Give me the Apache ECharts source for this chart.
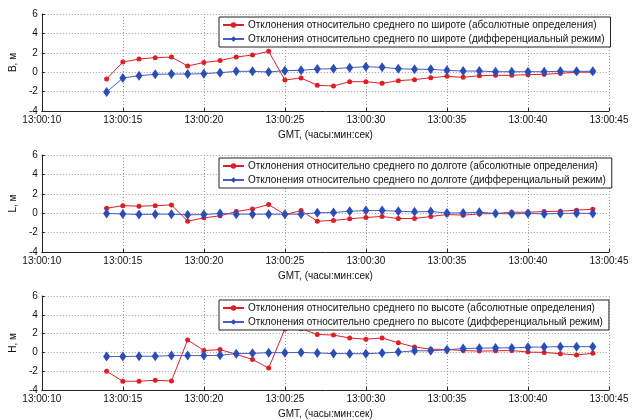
<!DOCTYPE html>
<html>
<head>
<meta charset="utf-8">
<script src="https://cdn.jsdelivr.net/npm/echarts@6/dist/echarts.min.js"></script>
<style>
  html, body { margin: 0; padding: 0; background: #fff; }
  #chart { width: 638px; height: 420px; }
</style>
</head>
<body>
<div id="chart"></div>
<script>
// Seconds after 13:00:00 (GMT) for each epoch
const seconds = [14, 15, 16, 17, 18, 19, 20, 21, 22, 23, 24, 25, 26, 27, 28, 29,
                 30, 31, 32, 33, 34, 35, 36, 37, 38, 39, 40, 41, 42, 43, 44];

// Axis tick labels
const xTickLabels = ['13:00:10', '13:00:15', '13:00:20', '13:00:25',
                     '13:00:30', '13:00:35', '13:00:40', '13:00:45'];
const yTicks = [-4, -2, 0, 2, 4, 6];

// Latitude deviations, m
const latAbs = [-0.7, 1.05, 1.36, 1.5, 1.56, 0.64, 1.0, 1.2, 1.57, 1.77, 2.15,
                -0.8, -0.6, -1.35, -1.42, -0.98, -0.98, -1.15, -0.87, -0.77, -0.56,
                -0.43, -0.53, -0.36, -0.32, -0.32, -0.25, -0.22, -0.12, 0.0, 0.0];
const latDiff = [-2.04, -0.6, -0.36, -0.22, -0.19, -0.19, -0.15, -0.05, 0.09, 0.09, 0.02,
                 0.16, 0.19, 0.33, 0.36, 0.47, 0.57, 0.5, 0.36, 0.3, 0.3,
                 0.19, 0.12, 0.12, 0.05, 0.05, 0.05, 0.05, 0.09, 0.09, 0.09];

// Longitude deviations, m
const lonAbs = [0.51, 0.78, 0.72, 0.78, 0.85, -0.82, -0.48, -0.27, 0.17, 0.44, 0.89,
                -0.14, 0.27, -0.82, -0.75, -0.58, -0.44, -0.34, -0.55, -0.55, -0.34,
                -0.14, -0.2, -0.07, -0.03, 0.1, 0.1, 0.17, 0.2, 0.31, 0.41];
const lonDiff = [-0.03, -0.07, -0.14, -0.1, -0.1, -0.17, -0.14, -0.03, -0.1, -0.1, -0.1,
                 -0.1, -0.1, 0.05, 0.07, 0.2, 0.27, 0.27, 0.2, 0.14, 0.17,
                 0.03, 0.03, 0.1, -0.03, -0.07, -0.03, -0.07, -0.03, 0.0, -0.03];

// Height deviations, m
const hgtAbs = [-2.0, -3.07, -3.07, -2.97, -3.04, 1.33, 0.2, 0.3, -0.2, -0.75, -1.67,
                2.49, 2.52, 1.91, 1.84, 1.54, 1.4, 1.54, 1.02, 0.58, 0.34,
                0.31, 0.2, 0.14, 0.17, 0.2, 0.03, 0.0, -0.14, -0.27, -0.1];
const hgtDiff = [-0.44, -0.44, -0.41, -0.41, -0.34, -0.34, -0.34, -0.31, -0.14, -0.1, -0.03,
                 -0.03, 0.0, -0.07, -0.12, -0.14, -0.14, -0.07, 0.03, 0.17, 0.17,
                 0.27, 0.41, 0.44, 0.48, 0.48, 0.55, 0.58, 0.61, 0.61, 0.61];

const panels = [
  { yName: 'B, м', word: 'широте', abs: latAbs, diff: latDiff },
  { yName: 'L, м', word: 'долготе', abs: lonAbs, diff: lonDiff },
  { yName: 'H, м', word: 'высоте', abs: hgtAbs, diff: hgtDiff }
];

const FONT = 'Liberation Sans, Arial, sans-serif';
const TEXT = '#111';
const RED = '#dd2027';
const BLUE = '#2a4db8';
const gridTops = [14, 155, 296];
const legendOffsets = [3, 3, 4];
const plotH = 97;

const pairs = arr => seconds.map((s, i) => [s, arr[i]]);

const option = {
  animation: false,
  backgroundColor: '#fff',
  grid: [], xAxis: [], yAxis: [], legend: [], series: []
};

panels.forEach((p, k) => {
  const top = gridTops[k];
  option.grid.push({ left: 35, right: 29, top: top, height: plotH });

  option.xAxis.push({
    type: 'value', gridIndex: k, min: 10, max: 45, interval: 5,
    name: 'GMT, (часы:мин:сек)', nameLocation: 'middle', nameGap: 19,
    nameTextStyle: { fontFamily: FONT, fontSize: 10, color: TEXT },
    axisLine: { show: true, onZero: false, lineStyle: { color: '#222', width: 1 } },
    axisTick: { show: true, inside: true, length: 3, lineStyle: { color: '#222' } },
    axisLabel: {
      fontFamily: FONT, fontSize: 10, color: TEXT, margin: 4,
      formatter: v => xTickLabels[Math.round((v - 10) / 5)]
    },
    splitLine: { show: true, lineStyle: { type: [1, 2], color: '#999', width: 1 } }
  });

  option.yAxis.push({
    type: 'value', gridIndex: k, min: yTicks[0], max: yTicks[yTicks.length - 1], interval: 2,
    name: p.yName, nameLocation: 'middle', nameRotate: 90, nameGap: 11,
    nameTextStyle: { fontFamily: FONT, fontSize: 10, color: TEXT },
    axisLine: { show: true, onZero: false, lineStyle: { color: '#222', width: 1 } },
    axisTick: { show: true, inside: true, length: 3, lineStyle: { color: '#222' } },
    axisLabel: { fontFamily: FONT, fontSize: 10, color: TEXT, margin: 4 },
    splitLine: { show: true, lineStyle: { type: [1, 2], color: '#999', width: 1 } }
  });

  const nameAbs = 'Отклонения относительно среднего по ' + p.word + ' (абсолютные определения)';
  const nameDiff = 'Отклонения относительно среднего по ' + p.word + ' (дифференциальный режим)';

  option.legend.push({
    data: [nameAbs, nameDiff],
    orient: 'vertical', left: 219, top: top + legendOffsets[k], width: 387,
    padding: [2, 6, 2, 3], itemGap: 2, itemWidth: 21, itemHeight: 7,
    backgroundColor: '#fff', borderColor: '#222', borderWidth: 1, borderRadius: 0,
    textStyle: { fontFamily: FONT, fontSize: 10, color: TEXT, lineHeight: 12, padding: [0, 0, 0, -1] }
  });

  option.series.push({
    name: nameAbs, type: 'line', xAxisIndex: k, yAxisIndex: k,
    data: pairs(p.abs), symbol: 'circle', symbolSize: 5,
    lineStyle: { color: RED, width: 1 }, itemStyle: { color: RED }, z: 2
  });
  option.series.push({
    name: nameDiff, type: 'line', xAxisIndex: k, yAxisIndex: k,
    data: pairs(p.diff), symbol: 'diamond', symbolSize: [7, 10],
    lineStyle: { color: '#4a5cc8', width: 1 }, itemStyle: { color: BLUE }, z: 3
  });
});

echarts.init(document.getElementById('chart'), null, { renderer: 'canvas' }).setOption(option);
</script>
</body>
</html>
